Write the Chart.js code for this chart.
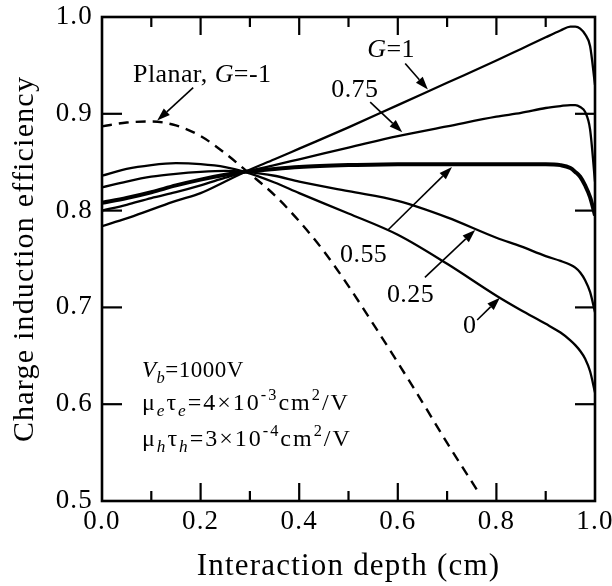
<!DOCTYPE html>
<html>
<head>
<meta charset="utf-8">
<script src="https://cdn.jsdelivr.net/npm/chart.js@4.4.0/dist/chart.umd.min.js"></script>
<style>
html, body { margin: 0; padding: 0; background: #fff; }
</style>
</head>
<body>
<canvas id="cieChart" width="612" height="586"></canvas>
<script>
// interaction depth (cm) shared by the coplanar-grid curves
const depth = [0, 0.05, 0.1, 0.15, 0.2, 0.25, 0.29, 0.35, 0.4, 0.5, 0.6, 0.7, 0.8, 0.85, 0.9, 0.93, 0.95, 0.96, 0.97, 0.98, 0.99, 1.0];

const gOne     = [0.784, 0.792, 0.801, 0.810, 0.818, 0.830, 0.840, 0.853, 0.864, 0.886, 0.909, 0.932, 0.955, 0.967, 0.979, 0.986, 0.990, 0.990, 0.988, 0.982, 0.970, 0.930];
const gThreeQ  = [0.800, 0.806, 0.813, 0.819, 0.826, 0.834, 0.840, 0.847, 0.853, 0.865, 0.877, 0.887, 0.897, 0.901, 0.906, 0.908, 0.909, 0.909, 0.907, 0.902, 0.884, 0.830];
const gMid     = [0.808, 0.813, 0.819, 0.826, 0.832, 0.837, 0.840, 0.843, 0.845, 0.847, 0.848, 0.848, 0.848, 0.848, 0.848, 0.847, 0.844, 0.840, 0.835, 0.826, 0.814, 0.795];
const gQuarter = [0.824, 0.830, 0.835, 0.838, 0.840, 0.841, 0.840, 0.836, 0.830, 0.820, 0.810, 0.793, 0.772, 0.763, 0.753, 0.748, 0.744, 0.741, 0.736, 0.728, 0.716, 0.695];
const gZero    = [0.836, 0.843, 0.847, 0.849, 0.848, 0.845, 0.840, 0.829, 0.818, 0.797, 0.775, 0.745, 0.712, 0.697, 0.683, 0.674, 0.666, 0.661, 0.655, 0.647, 0.634, 0.612];

// planar detector, G = -1 (dashed)
const planarDepth = [0, 0.05, 0.1, 0.15, 0.2, 0.25, 0.3, 0.35, 0.4, 0.45, 0.5, 0.55, 0.6, 0.65, 0.7, 0.765];
const planarCie   = [0.887, 0.891, 0.892, 0.888, 0.877, 0.859, 0.838, 0.816, 0.789, 0.758, 0.722, 0.683, 0.643, 0.602, 0.560, 0.508];

const xTickMarks = [0.1, 0.2, 0.3, 0.4, 0.5, 0.6, 0.7, 0.8, 0.9];
const yTickMarks = [0.6, 0.7, 0.8, 0.9];

const serif = '"Liberation Serif", "Times New Roman", serif';

// labels with arrows, in data units
const notes = [
  { parts: [{t: 'Planar, '}, {t: 'G', it: 1}, {t: '=-1'}], at: [0.063, 0.933], arrow: [[0.185, 0.927], [0.112, 0.893]] },
  { parts: [{t: 'G', it: 1}, {t: '=1'}], at: [0.538, 0.959], arrow: [[0.615, 0.952], [0.661, 0.925]] },
  { parts: [{t: '0.75'}], at: [0.465, 0.917], arrow: [[0.544, 0.912], [0.609, 0.881]] },
  { parts: [{t: '0.55'}], at: [0.483, 0.747], arrow: [[0.580, 0.780], [0.710, 0.845]] },
  { parts: [{t: '0.25'}], at: [0.578, 0.706], arrow: [[0.655, 0.731], [0.757, 0.780]] },
  { parts: [{t: '0'}], at: [0.732, 0.674], arrow: [[0.761, 0.687], [0.807, 0.710]] }
];

const params = [
  { parts: [{t: 'V', it: 1}, {t: 'b', it: 1, sub: 1}, {t: '=1000V'}], at: [0.081, 0.628], size: 23, gap: 0.5 },
  { parts: [{t: 'μ'}, {t: 'e', it: 1, sub: 1}, {t: 'τ'}, {t: 'e', it: 1, sub: 1}, {t: '=4×10'}, {t: '-3', sup: 1}, {t: 'cm'}, {t: '2', sup: 1}, {t: '/V'}], at: [0.081, 0.594], size: 24, gap: 2 },
  { parts: [{t: 'μ'}, {t: 'h', it: 1, sub: 1}, {t: 'τ'}, {t: 'h', it: 1, sub: 1}, {t: '=3×10'}, {t: '-4', sup: 1}, {t: 'cm'}, {t: '2', sup: 1}, {t: '/V'}], at: [0.081, 0.557], size: 24, gap: 2 }
];

function pts(xs, ys) {
  return xs.map((x, i) => ({x: x, y: ys[i]}));
}

function curve(label, ys, width) {
  return {
    label: label,
    data: pts(depth, ys),
    borderColor: '#000',
    borderWidth: width,
    pointRadius: 0,
    fill: false,
    cubicInterpolationMode: 'monotone'
  };
}

function drawRich(c, parts, x, y, size, gap) {
  let cx = x;
  c.letterSpacing = gap + 'px';
  parts.forEach(p => {
    let fs = size, dy = 0;
    if (p.sub) { fs = size * 0.72; dy = size * 0.25; }
    if (p.sup) { fs = size * 0.68; dy = -size * 0.42; }
    c.font = (p.it ? 'italic ' : '') + fs + 'px ' + serif;
    c.fillText(p.t, cx, y + dy);
    cx += c.measureText(p.t).width;
  });
}

function drawArrow(c, x1, y1, x2, y2) {
  const a = Math.atan2(y2 - y1, x2 - x1), L = 13, W = 4.5;
  const bx = x2 - L * Math.cos(a), by = y2 - L * Math.sin(a);
  c.lineWidth = 1.6;
  c.beginPath();
  c.moveTo(x1, y1);
  c.lineTo(bx, by);
  c.stroke();
  c.beginPath();
  c.moveTo(x2, y2);
  c.lineTo(bx + W * Math.sin(a), by - W * Math.cos(a));
  c.lineTo(bx - W * Math.sin(a), by + W * Math.cos(a));
  c.closePath();
  c.fill();
}

function tickMark(c, x1, y1, x2, y2) {
  c.beginPath();
  c.moveTo(x1, y1);
  c.lineTo(x2, y2);
  c.stroke();
}

// wider letter spacing for the library's own tick labels and titles
const spacing = {
  id: 'spacing',
  beforeLayout(chart) { chart.ctx.letterSpacing = '1.2px'; },
  beforeDraw(chart) { chart.ctx.letterSpacing = '1.2px'; }
};

const frameAndNotes = {
  id: 'frameAndNotes',
  afterDraw(chart) {
    const c = chart.ctx;
    const area = chart.chartArea;
    const xs = chart.scales.x, ys = chart.scales.y;
    c.save();
    c.setLineDash([]);
    c.strokeStyle = '#000';
    c.fillStyle = '#000';

    // frame
    c.lineWidth = 2.6;
    c.strokeRect(area.left, area.top, area.right - area.left, area.bottom - area.top);

    // inward tick marks
    c.lineWidth = 2.2;
    xTickMarks.forEach((v, i) => {
      const px = xs.getPixelForValue(v);
      const len = (i % 2 === 1) ? 18 : 10;
      tickMark(c, px, area.bottom, px, area.bottom - len);
      tickMark(c, px, area.top, px, area.top + len);
    });
    yTickMarks.forEach(v => {
      const py = ys.getPixelForValue(v);
      tickMark(c, area.left, py, area.left + 20, py);
      tickMark(c, area.right, py, area.right - 20, py);
    });

    // labels and arrows
    c.textAlign = 'left';
    c.textBaseline = 'alphabetic';
    notes.forEach(n => {
      drawRich(c, n.parts, xs.getPixelForValue(n.at[0]), ys.getPixelForValue(n.at[1]), 26, 0.4);
      drawArrow(c,
        xs.getPixelForValue(n.arrow[0][0]), ys.getPixelForValue(n.arrow[0][1]),
        xs.getPixelForValue(n.arrow[1][0]), ys.getPixelForValue(n.arrow[1][1]));
    });
    params.forEach(p => {
      drawRich(c, p.parts, xs.getPixelForValue(p.at[0]), ys.getPixelForValue(p.at[1]), p.size, p.gap);
    });
    c.restore();
  }
};

const ctx = document.getElementById('cieChart').getContext('2d');

const chart = new Chart(ctx, {
  type: 'line',
  data: {
    datasets: [
      {
        label: 'Planar, G=-1',
        data: pts(planarDepth, planarCie),
        borderColor: '#000',
        borderWidth: 2.4,
        borderDash: [10, 7],
        pointRadius: 0,
        fill: false,
        cubicInterpolationMode: 'monotone'
      },
      curve('G=1', gOne, 2.3),
      curve('G=0.75', gThreeQ, 2.3),
      curve('G=0.55', gMid, 4),
      curve('G=0.25', gQuarter, 2.3),
      curve('G=0', gZero, 2.3)
    ]
  },
  options: {
    responsive: false,
    animation: false,
    devicePixelRatio: 1,
    layout: { padding: { top: 17, right: 17, left: 0, bottom: 0 } },
    plugins: {
      legend: { display: false },
      tooltip: { enabled: false }
    },
    scales: {
      x: {
        type: 'linear',
        min: 0,
        max: 1,
        afterFit: s => { s.height = 85; s.paddingLeft = 0; s.paddingRight = 0; },
        grid: { display: false, drawTicks: false },
        border: { display: false },
        ticks: {
          stepSize: 0.2,
          padding: 5,
          color: '#000',
          maxRotation: 0,
          autoSkip: false,
          font: { family: serif, size: 27 },
          callback: v => v.toFixed(1)
        },
        title: {
          display: true,
          text: 'Interaction depth (cm)',
          color: '#000',
          font: { family: serif, size: 31 },
          padding: { top: 0, bottom: 1 }
        }
      },
      y: {
        min: 0.5,
        max: 1.0,
        afterFit: s => { s.width = 102; s.paddingTop = 0; s.paddingBottom = 0; },
        grid: { display: false, drawTicks: false },
        border: { display: false },
        ticks: {
          stepSize: 0.1,
          padding: 9,
          color: '#000',
          font: { family: serif, size: 27 },
          callback: v => v.toFixed(1)
        },
        title: {
          display: true,
          text: 'Charge induction efficiency',
          color: '#000',
          font: { family: serif, size: 30 },
          padding: { top: 7, bottom: 0 }
        }
      }
    }
  },
  plugins: [spacing, frameAndNotes]
});
</script>
</body>
</html>
